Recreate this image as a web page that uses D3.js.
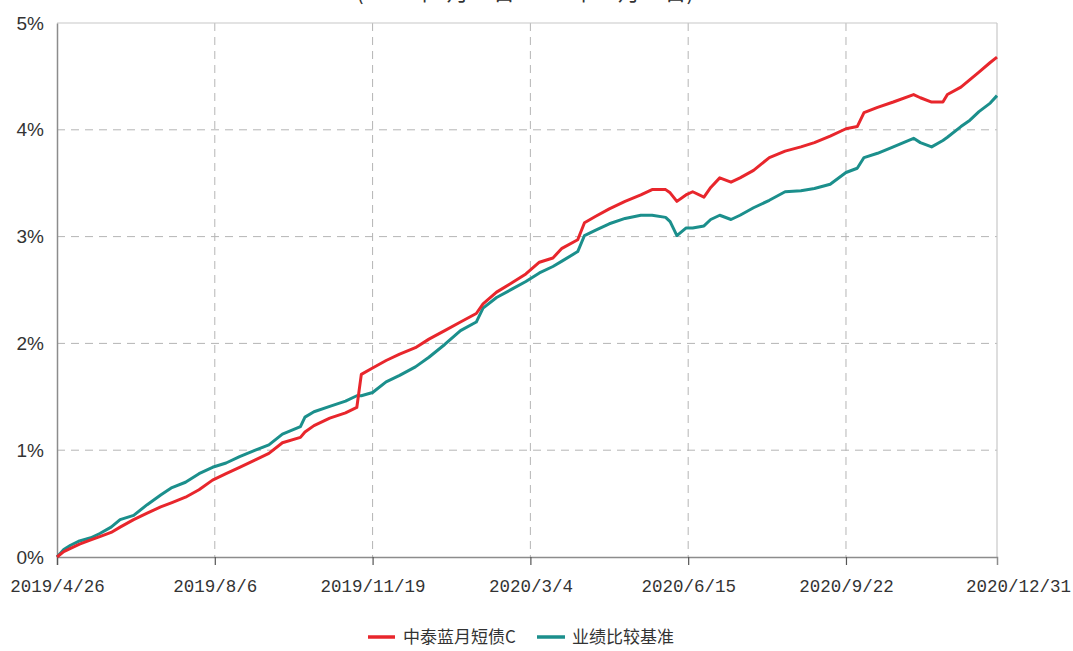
<!DOCTYPE html>
<html>
<head>
<meta charset="utf-8">
<script src="https://cdn.jsdelivr.net/npm/d3@7/dist/d3.min.js"></script>
<style>
  html, body { margin: 0; padding: 0; background: #fff; }
  svg { display: block; }
</style>
</head>
<body>
<svg id="chart" width="1073" height="651"></svg>
<script>
// ---- data (trading-day index from 2019/4/26, cumulative return in %) ----
const titleText = "(2019年4月26日-2020年12月31日)";
const seriesNames = ["中泰蓝月短债C", "业绩比较基准"];
const seriesColors = ["#e8262c", "#1b8f8c"];
const xTickIndex = [0, 70, 140, 210, 280, 350, 417];
const xTickLabels = ["2019/4/26", "2019/8/6", "2019/11/19", "2020/3/4", "2020/6/15", "2020/9/22", "2020/12/31"];
const yTickValues = [0, 1, 2, 3, 4, 5];

const dayIndex = [0,3,6,10,15,19,24,28,34,40,46,51,57,63,69,75,81,88,94,100,
  108,110,114,121,128,133,135,140,146,152,159,165,172,179,186,189,195,202,208,214,
  220,224,231,234,239,245,252,259,264,270,272,275,279,282,287,290,294,299,303,309,
  316,323,330,336,343,350,355,358,364,371,380,383,388,393,395,401,405,409,414,417];

const fundValues = [0,0.05,0.08,0.12,0.16,0.19,0.23,0.28,0.35,0.41,0.47,0.51,0.56,0.63,0.72,0.78,0.84,0.91,0.97,1.07,
  1.12,1.17,1.23,1.30,1.35,1.40,1.71,1.77,1.84,1.90,1.96,2.04,2.12,2.20,2.28,2.37,2.48,2.57,2.65,2.76,
  2.80,2.89,2.97,3.13,3.19,3.26,3.33,3.39,3.44,3.44,3.41,3.33,3.39,3.42,3.37,3.46,3.55,3.51,3.55,3.62,
  3.74,3.80,3.84,3.88,3.94,4.01,4.03,4.16,4.21,4.26,4.33,4.30,4.26,4.26,4.33,4.40,4.47,4.54,4.63,4.68];

const benchValues = [0,0.07,0.11,0.15,0.18,0.22,0.28,0.35,0.39,0.49,0.58,0.65,0.70,0.78,0.84,0.88,0.94,1.00,1.05,1.15,
  1.22,1.31,1.36,1.41,1.46,1.51,1.51,1.54,1.64,1.70,1.78,1.87,1.99,2.12,2.20,2.33,2.43,2.51,2.58,2.66,
  2.72,2.77,2.86,3.01,3.06,3.12,3.17,3.20,3.20,3.18,3.14,3.01,3.08,3.08,3.10,3.16,3.20,3.16,3.20,3.27,
  3.34,3.42,3.43,3.45,3.49,3.60,3.64,3.74,3.78,3.84,3.92,3.88,3.84,3.90,3.93,4.03,4.09,4.17,4.25,4.32];

// ---- layout ----
const svg = d3.select("#chart");
const margin = {left: 57, right: 76, top: 23, bottom: 94};
const W = 1073, H = 651;
const x0 = margin.left, x1 = W - margin.right, y0 = H - margin.bottom, y1 = margin.top;

const x = d3.scaleLinear().domain([0, 417]).range([x0, x1]);
const y = d3.scaleLinear().domain([0, 5]).range([y0, y1]);

// title (cut off at top, as in the reference)
svg.append("text")
  .attr("x", 525).attr("y", 0)
  .attr("text-anchor", "middle")
  .attr("font-family", "'Noto Sans CJK SC', sans-serif")
  .attr("font-size", 22)
  .attr("fill", "#333")
  .text(titleText);

// grid
const grid = svg.append("g");
grid.selectAll("line.h").data(yTickValues.slice(1, -1)).enter().append("line")
  .attr("x1", x0).attr("x2", x1)
  .attr("y1", d => y(d)).attr("y2", d => y(d))
  .attr("stroke", "#b5b5b5").attr("stroke-width", 1).attr("stroke-dasharray", "8,6");
grid.selectAll("line.v").data(xTickIndex.slice(1, -1)).enter().append("line")
  .attr("x1", d => x(d)).attr("x2", d => x(d))
  .attr("y1", y1).attr("y2", y0)
  .attr("stroke", "#b5b5b5").attr("stroke-width", 1).attr("stroke-dasharray", "8,6");

// frame: top and right borders
svg.append("line").attr("x1", x0).attr("x2", x1).attr("y1", y1).attr("y2", y1)
  .attr("stroke", "#c8c8c8").attr("stroke-width", 1.2);
svg.append("line").attr("x1", x1).attr("x2", x1).attr("y1", y1).attr("y2", y0)
  .attr("stroke", "#c8c8c8").attr("stroke-width", 1.2);

// y axis
const yAxis = svg.append("g").attr("transform", `translate(${x0},0)`)
  .call(d3.axisLeft(y).tickValues(yTickValues).tickFormat(d => d + "%").tickSize(0).tickPadding(13));
yAxis.select(".domain").attr("stroke", "#8c8c8c").attr("stroke-width", 1.5);
yAxis.selectAll("text")
  .attr("font-family", "'Liberation Sans Narrow', 'Arial Narrow', 'Liberation Sans', sans-serif")
  .attr("font-size", 19).attr("fill", "#333");

// x axis
const xAxis = svg.append("g").attr("transform", `translate(0,${y0})`)
  .call(d3.axisBottom(x).tickValues(xTickIndex).tickFormat((d, i) => xTickLabels[i]).tickSize(8).tickPadding(15));
xAxis.select(".domain").attr("stroke", "#8c8c8c").attr("stroke-width", 1.5);
xAxis.selectAll(".tick line").attr("stroke", "#555").attr("stroke-width", 1.2);
xAxis.selectAll(".tick text")
  .attr("font-family", "'Liberation Mono', 'DejaVu Sans Mono', monospace")
  .attr("font-size", 17.5).attr("fill", "#333");
const lastTick = xAxis.selectAll(".tick").filter((d, i) => i === xTickIndex.length - 1);
lastTick.select("line").remove();
lastTick.select("text").attr("dx", 21);

// lines
const line = d3.line().x((d, i) => x(dayIndex[i])).y(d => y(d)).curve(d3.curveLinear);
[benchValues, fundValues].forEach((vals, k) => {
  const ci = k === 0 ? 1 : 0;
  svg.append("path")
    .datum(vals)
    .attr("fill", "none")
    .attr("stroke", seriesColors[ci])
    .attr("stroke-width", 3)
    .attr("stroke-linejoin", "round")
    .attr("d", line);
});

// legend
const legendY = 637;
const legendItems = [{x: 368, w: 27, tx: 403}, {x: 537, w: 28, tx: 572}];
seriesNames.forEach((name, i) => {
  const it = legendItems[i];
  svg.append("line").attr("x1", it.x).attr("x2", it.x + it.w)
    .attr("y1", legendY).attr("y2", legendY)
    .attr("stroke", seriesColors[i]).attr("stroke-width", 3.5);
  svg.append("text").attr("x", it.tx).attr("y", legendY)
    .attr("dy", "0.35em")
    .attr("font-family", "'Noto Sans CJK SC', sans-serif")
    .attr("font-size", 17).attr("fill", "#333")
    .text(name);
});
</script>
</body>
</html>
